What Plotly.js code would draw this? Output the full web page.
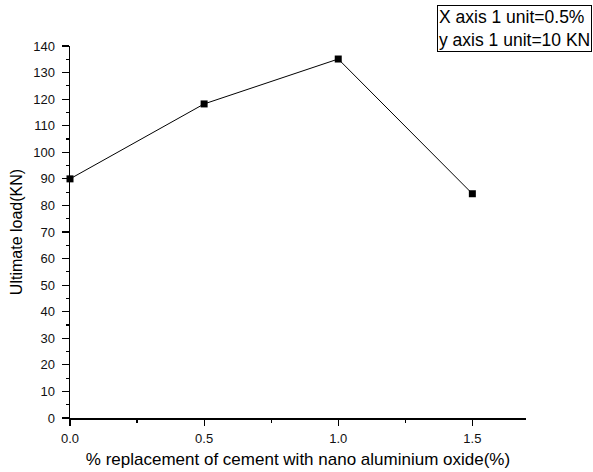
<!DOCTYPE html>
<html><head><meta charset="utf-8">
<script src="https://cdn.plot.ly/plotly-3.0.1.min.js"></script>
<style>html,body{margin:0;padding:0;background:#fff}#chart{width:593px;height:472px}</style>
</head><body><div id="chart"></div>
<script>
const replacement = [0.0, 0.5, 1.0, 1.5];
const ultimateLoad = [90, 118.2, 135.1, 84.4];
const xTicks = [0.0, 0.5, 1.0, 1.5];
const xTickLabels = ['0.0', '0.5', '1.0', '1.5'];
const yTicks = [0,10,20,30,40,50,60,70,80,90,100,110,120,130,140];

const font = 'Liberation Sans, Arial, sans-serif';
Plotly.newPlot('chart', [{
  x: replacement, y: ultimateLoad, type: 'scatter', mode: 'lines+markers',
  line: {color: '#000', width: 1},
  marker: {symbol: 'square', size: 7, color: '#000'},
  cliponaxis: false, showlegend: false
}], {
  width: 593, height: 472,
  margin: {l: 70, r: 67, t: 46, b: 54},
  paper_bgcolor: '#fff', plot_bgcolor: '#fff',
  font: {family: font, color: '#000', size: 13},
  xaxis: {
    range: [0, 1.7], tickvals: xTicks, ticktext: xTickLabels,
    ticks: 'outside', ticklen: 6, tickwidth: 1.2, tickcolor: '#000', ticklabelstandoff: 2,
    minor: {dtick: 0.25, tick0: 0, ticks: 'outside', ticklen: 3, tickwidth: 1.2, tickcolor: '#000'},
    showline: true, linecolor: '#000', linewidth: 1.5, showgrid: false, zeroline: false,
    tickfont: {size: 13, family: font, color: '#111'},
    title: {text: '% replacement of cement with nano aluminium oxide(%)', font: {size: 17, family: font}, standoff: 8}
  },
  yaxis: {
    range: [0, 140], tickvals: yTicks,
    ticks: 'outside', ticklen: 7, tickwidth: 1.2, tickcolor: '#000', ticklabelstandoff: 4,
    minor: {dtick: 5, tick0: 0, ticks: 'outside', ticklen: 3, tickwidth: 1.2, tickcolor: '#000'},
    showline: true, linecolor: '#000', linewidth: 1.5, showgrid: false, zeroline: false,
    tickfont: {size: 13, family: font, color: '#111'},
    title: {text: 'Ultimate load(KN)', font: {size: 16, family: font}, standoff: 6}
  },
  annotations: [{
    xref: 'paper', yref: 'paper', x: 1.1447, y: 1.110, xanchor: 'right', yanchor: 'top',
    text: 'X axis 1 unit=0.5%<br>y axis 1 unit=10 KN', align: 'left', showarrow: false,
    font: {size: 17.5, family: font, color: '#000'},
    bordercolor: '#000', borderwidth: 1, borderpad: 1, bgcolor: '#fff'
  }]
}, {displayModeBar: false, staticPlot: true});
</script></body></html>
